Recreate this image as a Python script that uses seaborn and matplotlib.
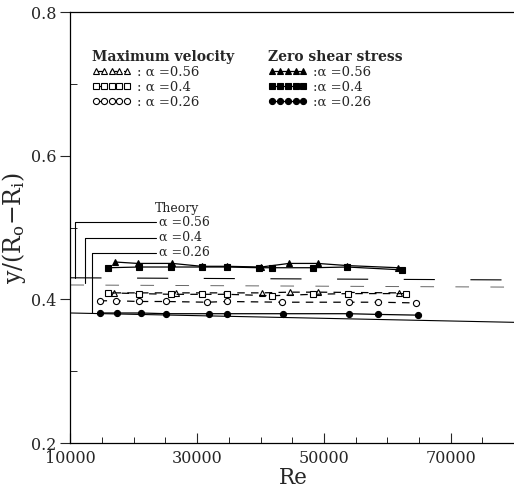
import matplotlib
matplotlib.use("Agg")
import matplotlib.pyplot as plt
import seaborn as sns
import pandas as pd
from matplotlib.ticker import MultipleLocator, FixedLocator

# ---- data ----
zs056_re = [17000, 20600, 26100, 30700, 34700, 40100, 44500, 49000, 53700, 61700]
zs056_y = [0.452, 0.450, 0.450, 0.446, 0.446, 0.445, 0.450, 0.450, 0.447, 0.444]
zs040_re = [15900, 20900, 25900, 30700, 34700, 39800, 41800, 48300, 53700, 62400]
zs040_y = [0.444, 0.445, 0.445, 0.445, 0.445, 0.444, 0.444, 0.444, 0.445, 0.441]
zs026_re = [14600, 17400, 21100, 25100, 31800, 34700, 43500, 53900, 58600, 64900]
zs026_y = [0.381, 0.381, 0.381, 0.380, 0.380, 0.380, 0.380, 0.380, 0.379, 0.378]

mv056_re = [16800, 26700, 40200, 44600, 49000, 61800]
mv056_y = [0.409, 0.409, 0.409, 0.410, 0.410, 0.409]
mv040_re = [15900, 20900, 25900, 30700, 34700, 41800, 48300, 53800, 62900]
mv040_y = [0.409, 0.408, 0.407, 0.407, 0.407, 0.405, 0.407, 0.408, 0.408]
mv026_re = [14600, 17200, 20800, 25100, 31500, 34700, 43400, 53900, 58600, 64600]
mv026_y = [0.398, 0.398, 0.397, 0.397, 0.396, 0.397, 0.396, 0.396, 0.396, 0.395]

theory_re = [10000, 80000]
theory_056 = [0.430, 0.427]
theory_040 = [0.420, 0.417]
theory_026 = [0.381, 0.368]
theory_labels = ["α =0.56", "α =0.4", "α =0.26"]

x_major = [10000, 30000, 50000, 70000]
y_major = [0.2, 0.4, 0.6, 0.8]

# ---- style ----
sns.set_style("ticks")
plt.rcParams["font.family"] = ["DejaVu Serif", "DejaVu Sans"]
plt.rcParams["mathtext.fontset"] = "dejavuserif"

fig = plt.figure(figsize=(5.14, 4.88), dpi=100)
ax = fig.add_axes([0.137, 0.0922, 0.863, 0.8832])

ms = 4.4
common = dict(ax=ax, color="k", errorbar=None, markersize=ms,
              markeredgecolor="k", markeredgewidth=0.8, linewidth=0.9)

# maximum velocity (open markers, dashed)
sns.lineplot(x=mv056_re, y=mv056_y, marker="^", markerfacecolor="white",
             linestyle=(0, (6, 5)), label=": α =0.56", **common)
sns.lineplot(x=mv040_re, y=mv040_y, marker="s", markerfacecolor="white",
             linestyle=(0, (6, 5)), label=": α =0.4", **common)
sns.lineplot(x=mv026_re, y=mv026_y, marker="o", markerfacecolor="white",
             linestyle=(0, (6, 5)), label=": α =0.26", **common)
# zero shear stress (filled markers, solid)
sns.lineplot(x=zs056_re, y=zs056_y, marker="^", markerfacecolor="k",
             linestyle="-", label=":α =0.56 ", **common)
sns.lineplot(x=zs040_re, y=zs040_y, marker="s", markerfacecolor="k",
             linestyle="-", label=":α =0.4 ", **common)
sns.lineplot(x=zs026_re, y=zs026_y, marker="o", markerfacecolor="k",
             linestyle="-", label=":α =0.26 ", **common)

# theory lines
sns.lineplot(x=theory_re, y=theory_056, ax=ax, color="k", linewidth=0.8,
             linestyle=(0, (28, 32)), errorbar=None)
sns.lineplot(x=theory_re, y=theory_040, ax=ax, color="0.4", linewidth=0.7,
             linestyle=(0, (14, 22)), errorbar=None)
sns.lineplot(x=theory_re, y=theory_026, ax=ax, color="k", linewidth=0.8,
             linestyle="-", errorbar=None)

# theory annotations with leader lines
ax.text(23300, 0.527, "Theory", fontsize=9, ha="left", va="center")
leader_x = [10700, 12300, 13400]
leader_to = [theory_056[0], 0.423, theory_026[0]]
label_y = [0.507, 0.486, 0.465]
for lab, lx, ly, ty in zip(theory_labels, leader_x, label_y, leader_to):
    ax.annotate(lab, xy=(lx, ty), xytext=(24000, ly), fontsize=9,
                ha="left", va="center",
                arrowprops=dict(arrowstyle="-", lw=0.8, color="k",
                                shrinkA=0, shrinkB=0,
                                connectionstyle="angle,angleA=0,angleB=90,rad=0"))

# legends
handles, labels = ax.get_legend_handles_labels()
leg_kw = dict(frameon=False, numpoints=5, handlelength=3.0, handletextpad=0.4,
              borderpad=0, borderaxespad=0, labelspacing=0.15, fontsize=9.5,
              title_fontproperties={"weight": "bold", "size": 10},
              alignment="left", loc="upper left")
leg1 = ax.legend(handles[:3], labels[:3], title="Maximum velocity",
                 bbox_to_anchor=(0.048, 0.912), **leg_kw)
ax.add_artist(leg1)
leg2 = ax.legend(handles[3:6], labels[3:6], title="Zero shear stress",
                 bbox_to_anchor=(0.445, 0.912), **leg_kw)

# axes
ax.set_xlim(10000, 80000)
ax.set_ylim(0.2, 0.8)
ax.xaxis.set_major_locator(FixedLocator(x_major))
ax.xaxis.set_minor_locator(MultipleLocator(5000))
ax.yaxis.set_major_locator(FixedLocator(y_major))
ax.yaxis.set_minor_locator(MultipleLocator(0.1))
ax.set_xticklabels([str(v) for v in x_major], fontsize=11.5)
ax.set_yticklabels([f"{v:.1f}" for v in y_major], fontsize=11.5)
ax.tick_params(axis="x", which="major", direction="in", length=7, width=0.8, pad=5)
ax.tick_params(axis="x", which="minor", direction="in", length=4, width=0.7)
ax.tick_params(axis="y", which="major", direction="out", length=7, width=0.8, pad=3)
ax.tick_params(axis="y", which="minor", direction="in", length=5, width=0.7)
for s in ["left", "bottom", "top"]:
    ax.spines[s].set_linewidth(0.9)
    ax.spines[s].set_color("k")
ax.spines["right"].set_visible(False)

ax.set_xlabel("Re", fontsize=15.5)
ax.xaxis.set_label_coords(0.502, -0.055)
ax.set_ylabel(r"y/(R$_{\rm o}$$-$R$_{\rm i}$)", fontsize=17)
ax.yaxis.set_label_coords(-0.096, 0.5)

fig.savefig("out.png", dpi=100)
